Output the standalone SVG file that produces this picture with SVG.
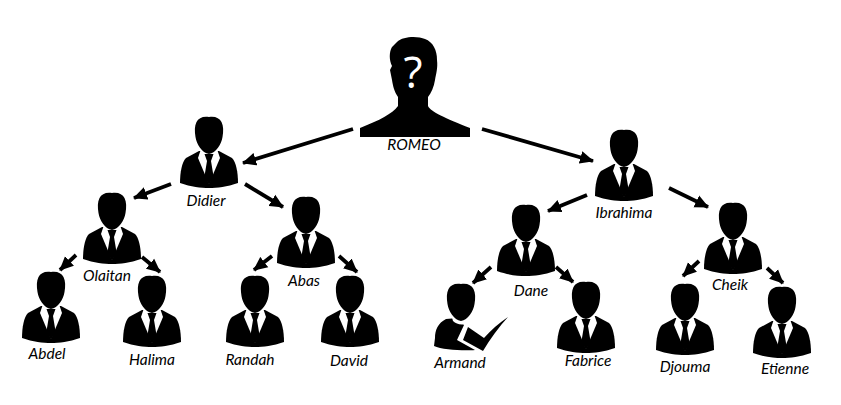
<svg xmlns="http://www.w3.org/2000/svg" xmlns:xlink="http://www.w3.org/1999/xlink" width="841" height="405" viewBox="0 0 841 405">
<style>
text{font-family:"Lato","Liberation Sans",sans-serif;font-style:italic;font-size:15.500px;fill:#000;text-anchor:middle}
.c line{stroke:#000;stroke-width:3.8;marker-end:url(#a)}
</style>
<defs>
<marker id="a" markerUnits="userSpaceOnUse" markerWidth="16" markerHeight="14" refX="13" refY="7" orient="auto"><path d="M0,0.500 L14,7 L0,13.500 Z" fill="#000"/></marker>
<symbol id="head" overflow="visible"><path d="M0,0 C6,-1 10.500,1 12.500,5 C14.500,9 14.500,14 13.500,20 C12.500,27 7,36 0,37 C-7,36 -12.500,27 -13.500,20 C-14.500,14 -14.500,9 -12.500,5 C-10.500,1 -6,-1 0,0 Z" fill="#000"/></symbol>
<symbol id="p" overflow="visible">
<path d="M-10,34 L-23,41 C-27,45 -29,55 -29,66 C-18,70 -8,71 0,71 C8,71 18,70 29,66 C29,55 27,45 23,41 L10,34 Z" fill="#000"/>
<path d="M-8,32 L-11,41 L0,67 L11,41 L8,32 Z" fill="#fff"/>
<path d="M-4.500,37 L4.500,37 L2,44 L4.500,59 L0,68 L-4.500,59 L-2,44 Z" fill="#000"/>
<use xlink:href="#head" href="#head"/>
</symbol>
</defs>
<g id="connectors" class="c">
<line x1="353" y1="129" x2="243" y2="163"/>
<line x1="482" y1="129" x2="593" y2="161"/>
<line x1="171" y1="184" x2="134" y2="198"/>
<line x1="245" y1="184" x2="283" y2="207"/>
<line x1="587" y1="195" x2="548" y2="211"/>
<line x1="669" y1="188" x2="708" y2="207"/>
<line x1="76" y1="255" x2="60" y2="270"/>
<line x1="142" y1="257" x2="160" y2="272"/>
<line x1="272" y1="256" x2="254" y2="270"/>
<line x1="339" y1="256" x2="357" y2="272"/>
<line x1="491" y1="267" x2="473" y2="283"/>
<line x1="556" y1="267" x2="573" y2="282"/>
<line x1="699" y1="261" x2="683" y2="276"/>
<line x1="767" y1="268" x2="783" y2="283"/>
</g>
<g id="romeo">
<path d="M397,42 C403,36 418,36 425,39 C433,42 437,50 437,60 C438,68 436,74 435,80 C434,87 431,93 428,97 L428,106 C431,112 445,118 470,128 L470,137 L360,137 L360,128 C380,120 392,114 398,106 L398,97 C394,91 393,86 392,80 L390,70 L392,66 C389,60 389,52 392,47 Z" fill="#000"/>
<text x="413" y="88" style="font-family:'Open Sans',sans-serif;font-style:normal;font-weight:400;font-size:44px;fill:#fff">?</text>
<text x="414" y="150">ROMEO</text>
</g>
<g id="didier"><use href="#p" x="209" y="117"/><text x="206" y="206">Didier</text></g>
<g id="olaitan"><use href="#p" x="112" y="193"/><text x="107" y="281">Olaitan</text></g>
<g id="abas"><use href="#p" x="306" y="197"/><text x="304" y="286">Abas</text></g>
<g id="abdel"><use href="#p" x="51" y="272"/><text x="47" y="359">Abdel</text></g>
<g id="halima"><use href="#p" x="152" y="276"/><text x="152" y="365">Halima</text></g>
<g id="randah"><use href="#p" x="255" y="276"/><text x="250" y="365">Randah</text></g>
<g id="david"><use href="#p" x="350" y="276"/><text x="349" y="366">David</text></g>
<g id="ibrahima"><use href="#p" x="624" y="130"/><text x="624" y="218">Ibrahima</text></g>
<g id="dane"><use href="#p" x="526" y="205"/><text x="531" y="296">Dane</text></g>
<g id="cheik"><use href="#p" x="733" y="203"/><text x="730" y="290">Cheik</text></g>
<g id="armand">
<path d="M446,319 C438,323 435,330 435,338 L434,346 C442,350 465,351 475,350 L457,340 L464,325 L458,318 Z" fill="#000"/>
<path d="M451,314 L453,321 C457,325 464,326 469,322 L471,314 Z" fill="#fff"/>
<path d="M463,340 L468,327 L484,338 C491,330 499,323 508,317 C499,327 490,339 483,351 Z" fill="#000"/>
<use href="#head" x="461" y="284"/>
<text x="460" y="368">Armand</text></g>
<g id="fabrice"><use href="#p" x="586" y="282"/><text x="588" y="366">Fabrice</text></g>
<g id="djouma"><use href="#p" x="685" y="284"/><text x="685" y="372">Djouma</text></g>
<g id="etienne"><use href="#p" x="782" y="287"/><text x="785" y="374">Etienne</text></g>
</svg>
